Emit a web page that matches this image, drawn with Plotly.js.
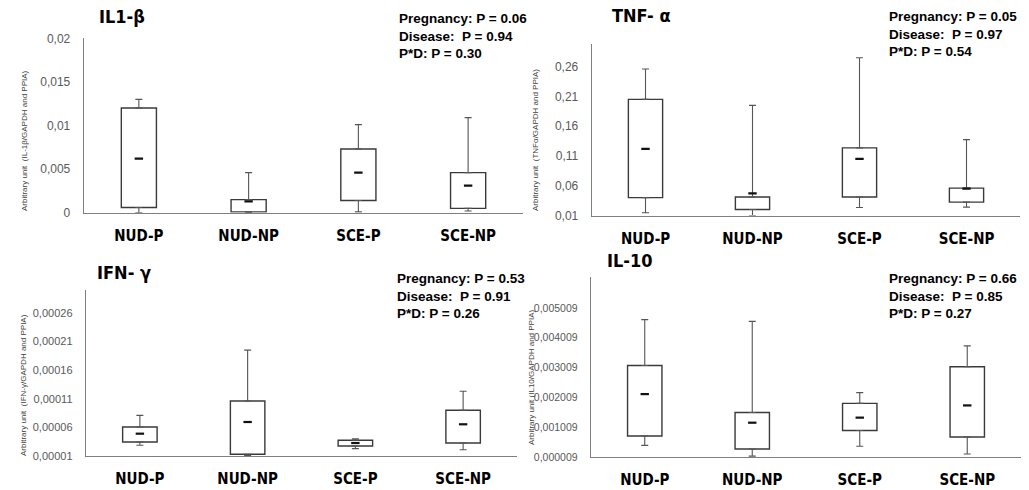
<!DOCTYPE html>
<html>
<head>
<meta charset="utf-8">
<script src="https://cdn.plot.ly/plotly-3.0.1.min.js"></script>
<style>html,body{margin:0;padding:0;background:#fff;}#chart{width:1029px;height:490px;}</style>
</head>
<body>
<div id="chart"></div>
<script>
// ---- data ----
const categories = ['NUD-P', 'NUD-NP', 'SCE-P', 'SCE-NP'];

// IL1-beta
const il1Q1   = [0.0006, 0.0001, 0.0014, 0.0005];
const il1Q3   = [0.0120, 0.0015, 0.0073, 0.0046];
const il1Low  = [0.0000, 0.0000, 0.0001, 0.0002];
const il1High = [0.0130, 0.0046, 0.0101, 0.0109];
const il1Mid  = [0.0062, 0.0013, 0.0046, 0.0031];
const il1TickVals = [0, 0.005, 0.01, 0.015, 0.02];
const il1TickText = ['0', '0,005', '0,01', '0,015', '0,02'];

// TNF-alpha
const tnfQ1   = [0.040, 0.020, 0.041, 0.0325];
const tnfQ3   = [0.205, 0.041, 0.1235, 0.056];
const tnfLow  = [0.0145, 0.010, 0.0235, 0.024];
const tnfHigh = [0.256, 0.195, 0.275, 0.1375];
const tnfMid  = [0.122, 0.047, 0.105, 0.055];
const tnfTickVals = [0.01, 0.06, 0.11, 0.16, 0.21, 0.26];
const tnfTickText = ['0,01', '0,06', '0,11', '0,16', '0,21', '0,26'];

// IFN-gamma
const ifnQ1   = [0.0000345, 0.000013, 0.0000275, 0.0000327];
const ifnQ3   = [0.0000607, 0.000106, 0.0000374, 0.0000898];
const ifnLow  = [0.0000287, 0.000011, 0.0000228, 0.000021];
const ifnHigh = [0.000081, 0.000195, 0.000040, 0.000123];
const ifnMid  = [0.000049, 0.0000694, 0.0000327, 0.0000654];
const ifnTickVals = [0.00001, 0.00006, 0.00011, 0.00016, 0.00021, 0.00026];
const ifnTickText = ['0,00001', '0,00006', '0,00011', '0,00016', '0,00021', '0,00026'];

// IL-10
const il10Q1   = [0.000715, 0.00028, 0.0009, 0.00068];
const il10Q3   = [0.00308, 0.0015, 0.00181, 0.00304];
const il10Low  = [0.0004, 0.00004, 0.00037, 0.00011];
const il10High = [0.00462, 0.00456, 0.00217, 0.00374];
const il10Mid  = [0.00212, 0.00116, 0.00133, 0.00174];
const il10TickVals = [0.000009, 0.001009, 0.002009, 0.003009, 0.004009, 0.005009];
const il10TickText = ['0,000009', '0,001009', '0,002009', '0,003009', '0,004009', '0,005009'];

const panelTitles = ['IL1-β', 'TNF- α', 'IFN- γ', 'IL-10'];
const yTitles = [
  'Arbitrary unit  (IL-1β/GAPDH and PPIA)',
  'Arbitrary unit  (TNFα/GAPDH and PPIA)',
  'Arbitrary unit  (IFN-γ/GAPDH and PPIA)',
  'Arbitrary unit (IL10/GAPDH and PPIA)'
];
const statsText = [
  ['Pregnancy: P = 0.06', 'Disease:  P = 0.94', 'P*D: P = 0.30'],
  ['Pregnancy: P = 0.05', 'Disease:  P = 0.97', 'P*D: P = 0.54'],
  ['Pregnancy: P = 0.53', 'Disease:  P = 0.91', 'P*D: P = 0.26'],
  ['Pregnancy: P = 0.66', 'Disease:  P = 0.85', 'P*D: P = 0.27']
];

// ---- layout helpers ----
const W = 1029, H = 490;
const px = v => v / W;
const py = v => 1 - v / H;

const panels = [
  {q1: il1Q1, q3: il1Q3, lo: il1Low, hi: il1High, mid: il1Mid, tv: il1TickVals, tt: il1TickText,
   x0: 84, x1: 523, yTop: 38.3, yBot: 212.7, range: [0, 0.02], tickSize: 12,
   title: [97, 17], ytitle: [24, 141], stats: [397, 9]},
  {q1: tnfQ1, q3: tnfQ3, lo: tnfLow, hi: tnfHigh, mid: tnfMid, tv: tnfTickVals, tt: tnfTickText,
   x0: 592, x1: 1020, yTop: 44, yBot: 215.5, range: [0.01, 0.298], tickSize: 12,
   title: [610, 16], ytitle: [535, 140], stats: [887, 7]},
  {q1: ifnQ1, q3: ifnQ3, lo: ifnLow, hi: ifnHigh, mid: ifnMid, tv: ifnTickVals, tt: ifnTickText,
   x0: 86, x1: 517, yTop: 290, yBot: 456, range: [0.00001, 0.0003], tickSize: 11,
   title: [95, 272], ytitle: [23, 385], stats: [395, 269]},
  {q1: il10Q1, q3: il10Q3, lo: il10Low, hi: il10High, mid: il10Mid, tv: il10TickVals, tt: il10TickText,
   x0: 591, x1: 1021, yTop: 277, yBot: 457, range: [0.000009, 0.00605], tickSize: 10.5,
   title: [605, 260], ytitle: [531, 377], stats: [887, 269]}
];

const boldFont = '"Liberation Sans Narrow", "DejaVu Sans Condensed", "Liberation Sans", sans-serif';
const traces = [];
const layout = {
  width: W, height: H,
  margin: {l: 0, r: 0, t: 0, b: 0},
  paper_bgcolor: '#ffffff', plot_bgcolor: 'rgba(0,0,0,0)',
  showlegend: false,
  separators: ',.',
  annotations: []
};

panels.forEach((p, i) => {
  const n = i + 1;
  const xa = n === 1 ? 'x' : 'x' + n;
  const ya = n === 1 ? 'y' : 'y' + n;
  // box (Q1 to Q3)
  traces.push({
    type: 'bar', x: categories, base: p.q1, y: p.q3.map((v, k) => v - p.q1[k]),
    xaxis: xa, yaxis: ya, width: 0.32,
    marker: {color: '#ffffff', line: {color: '#3a3a3a', width: 1.4}},
    hoverinfo: 'skip'
  });
  // upper whisker
  traces.push({
    type: 'scatter', mode: 'markers', x: categories, y: p.q3, xaxis: xa, yaxis: ya,
    marker: {size: 1, color: 'rgba(0,0,0,0)'},
    error_y: {type: 'data', symmetric: false, array: p.hi.map((v, k) => v - p.q3[k]),
              arrayminus: p.q3.map(() => 0), color: '#555555', thickness: 1.1, width: 3.5},
    hoverinfo: 'skip'
  });
  // lower whisker
  traces.push({
    type: 'scatter', mode: 'markers', x: categories, y: p.q1, xaxis: xa, yaxis: ya,
    marker: {size: 1, color: 'rgba(0,0,0,0)'},
    error_y: {type: 'data', symmetric: false, array: p.q1.map(() => 0),
              arrayminus: p.q1.map((v, k) => v - p.lo[k]), color: '#555555', thickness: 1.1, width: 3.5},
    hoverinfo: 'skip'
  });
  // central dash
  traces.push({
    type: 'scatter', mode: 'markers', x: categories, y: p.mid, xaxis: xa, yaxis: ya,
    marker: {symbol: 'line-ew', size: 6, color: '#111111', line: {color: '#111111', width: 2.2}},
    hoverinfo: 'skip'
  });

  layout['xaxis' + (n === 1 ? '' : n)] = {
    domain: [px(p.x0), px(p.x1)], anchor: ya, type: 'category',
    range: [-0.5, 3.5], showline: true, linecolor: '#7f7f7f', linewidth: 1.3,
    showgrid: false, zeroline: false, ticks: '', ticklabelstandoff: 9,
    tickfont: {family: boldFont, size: 15, color: '#000000', weight: 700},
    fixedrange: true
  };
  layout['yaxis' + (n === 1 ? '' : n)] = {
    domain: [py(p.yBot), py(p.yTop)], anchor: xa,
    range: p.range, showline: true, linecolor: '#7f7f7f', linewidth: 1.3,
    showgrid: false, zeroline: false, ticks: '', ticklabelstandoff: 10,
    tickvals: p.tv, ticktext: p.tt,
    tickfont: {family: '"Liberation Sans", Arial, sans-serif', size: p.tickSize, color: '#595959'},
    fixedrange: true
  };

  layout.annotations.push({
    xref: 'paper', yref: 'paper', x: px(p.title[0]), y: py(p.title[1]),
    xanchor: 'left', yanchor: 'middle', showarrow: false, text: panelTitles[i],
    font: {family: boldFont, size: 18, color: '#000000', weight: 700}
  });
  layout.annotations.push({
    xref: 'paper', yref: 'paper', x: px(p.ytitle[0]), y: py(p.ytitle[1]),
    xanchor: 'center', yanchor: 'middle', showarrow: false, textangle: -90, text: yTitles[i],
    font: {family: '"Liberation Sans", Arial, sans-serif', size: 8, color: '#404040'}
  });
  layout.annotations.push({
    xref: 'paper', yref: 'paper', x: px(p.stats[0]), y: py(p.stats[1]),
    xanchor: 'left', yanchor: 'top', align: 'left', showarrow: false,
    text: statsText[i].join('<br>'),
    font: {family: '"Liberation Sans", Arial, sans-serif', size: 13.5, color: '#000000', weight: 700}
  });
});

Plotly.newPlot('chart', traces, layout, {displayModeBar: false, staticPlot: true});
</script>
</body>
</html>
